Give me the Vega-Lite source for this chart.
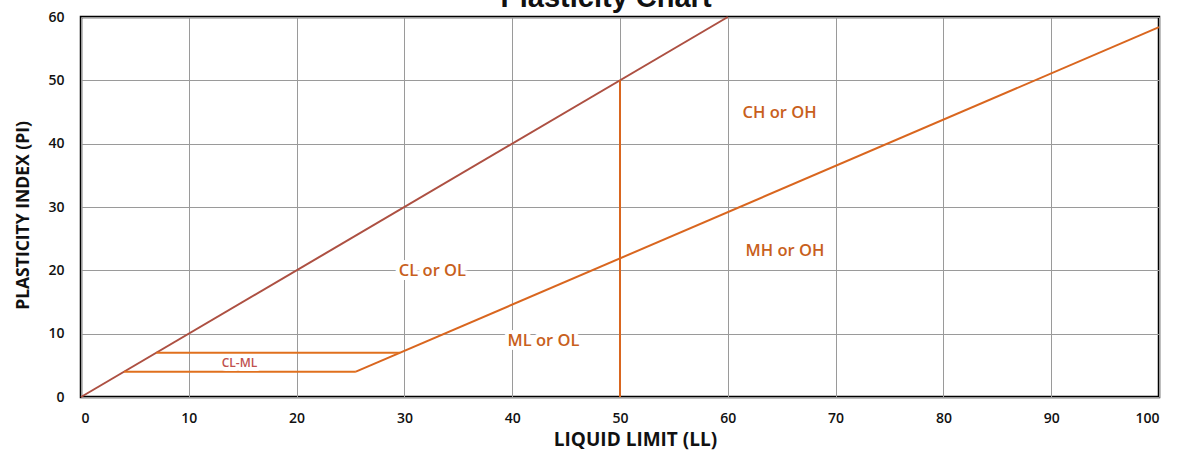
{
  "$schema": "https://vega.github.io/schema/vega-lite/v6.json",
  "width": 1078,
  "height": 380,
  "autosize": "none",
  "padding": {"left": 81, "top": 17, "right": 22, "bottom": 61},
  "background": "white",
  "config": {
    "view": {"stroke": "black", "strokeWidth": 2.5},
    "axis": {
      "labelFont": "Open Sans",
      "labelFontWeight": 600,
      "labelFontSize": 14,
      "labelColor": "#111",
      "titleFont": "Open Sans",
      "titleFontWeight": "bold",
      "titleFontSize": 17.5,
      "titleColor": "#111",
      "grid": true,
      "gridColor": "#9a9a9a",
      "gridWidth": 1,
      "ticks": false,
      "domain": false
    }
  },
  "title": {
    "text": "Plasticity Chart",
    "font": "Liberation Sans",
    "fontSize": 29,
    "fontWeight": "bold",
    "color": "#111",
    "baseline": "alphabetic",
    "offset": 3,
    "dx": -14,
    "dy": 29
  },
  "resolve": {"scale": {"color": "independent"}},
  "datasets": {
    "lines": [
      {"series": "U", "o": 1, "LL": 0, "PI": 0},
      {"series": "U", "o": 2, "LL": 60, "PI": 60},
      {"series": "A", "o": 1, "LL": 25.5, "PI": 4},
      {"series": "A", "o": 2, "LL": 100, "PI": 58.4},
      {"series": "H4", "o": 1, "LL": 4, "PI": 4},
      {"series": "H4", "o": 2, "LL": 25.5, "PI": 4},
      {"series": "H7", "o": 1, "LL": 7, "PI": 7},
      {"series": "H7", "o": 2, "LL": 29.6, "PI": 7},
      {"series": "V50", "o": 1, "LL": 50, "PI": 0},
      {"series": "V50", "o": 2, "LL": 50, "PI": 50}
    ],
    "labels": [
      {"label": "CL or OL", "LL": 32.6, "PI": 19.9, "kind": "big"},
      {"label": "ML or OL", "LL": 42.9, "PI": 8.9, "kind": "big"},
      {"label": "CH or OH", "LL": 64.8, "PI": 44.8, "kind": "big"},
      {"label": "MH or OH", "LL": 65.3, "PI": 23.0, "kind": "big"},
      {"label": "CL-ML", "LL": 14.7, "PI": 5.3, "kind": "small"}
    ]
  },
  "layer": [
    {
      "data": {"name": "lines"},
      "mark": {"type": "line", "strokeWidth": 2},
      "encoding": {
        "x": {
          "field": "LL", "type": "quantitative",
          "scale": {"domain": [0, 100], "nice": false},
          "axis": {"values": [0,10,20,30,40,50,60,70,80,90,100], "title": "LIQUID LIMIT (LL)", "labelPadding": 14, "titlePadding": 5, "titleFontSize": 19, "titleX": 554}
        },
        "y": {
          "field": "PI", "type": "quantitative",
          "scale": {"domain": [0, 60], "nice": false},
          "axis": {"values": [0,10,20,30,40,50,60], "title": "PLASTICITY INDEX (PI)", "labelPadding": 17, "titlePadding": 15, "titleY": 198}
        },
        "detail": {"field": "series"},
        "order": {"field": "o"},
        "color": {
          "field": "series", "type": "nominal", "legend": null,
          "scale": {"domain": ["U", "A", "H4", "H7", "V50"], "range": ["#ad5042", "#d9661f", "#e0701e", "#e0701e", "#d9661f"]}
        }
      }
    },
    {
      "data": {"name": "labels"},
      "mark": {"type": "text", "font": "Open Sans", "fontWeight": 600, "fill": "white", "stroke": "white", "strokeWidth": 8, "strokeJoin": "round"},
      "encoding": {
        "x": {"field": "LL", "type": "quantitative"},
        "y": {"field": "PI", "type": "quantitative"},
        "text": {"field": "label"},
        "size": {"field": "kind", "type": "nominal", "legend": null, "scale": {"domain": ["big", "small"], "range": [16.5, 12]}}
      }
    },
    {
      "data": {"name": "labels"},
      "mark": {"type": "text", "font": "Open Sans", "fontWeight": 600},
      "encoding": {
        "x": {"field": "LL", "type": "quantitative"},
        "y": {"field": "PI", "type": "quantitative"},
        "text": {"field": "label"},
        "size": {"field": "kind", "type": "nominal", "legend": null, "scale": {"domain": ["big", "small"], "range": [16.5, 12]}},
        "color": {"field": "kind", "type": "nominal", "legend": null, "scale": {"domain": ["big", "small"], "range": ["#c8601c", "#c0504d"]}}
      }
    }
  ]
}
